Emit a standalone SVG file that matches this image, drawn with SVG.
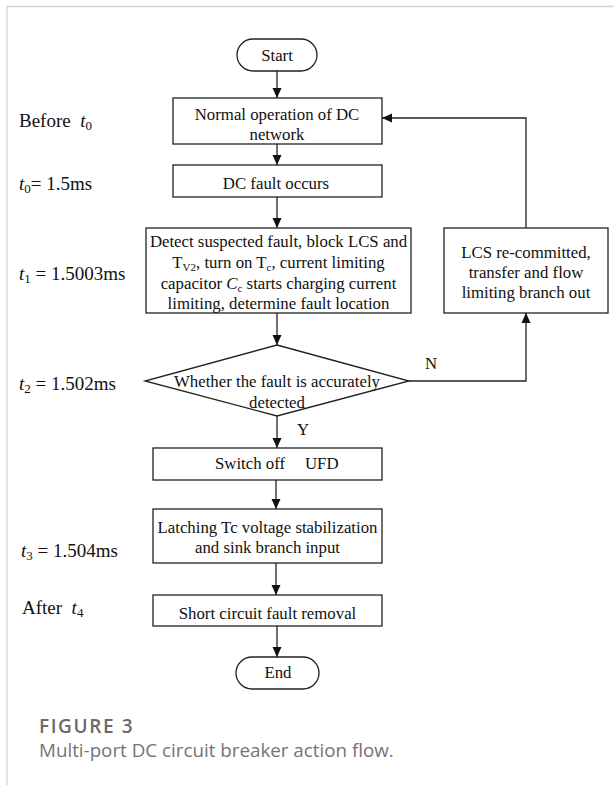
<svg xmlns="http://www.w3.org/2000/svg" width="614" height="785" viewBox="0 0 614 785">
<style>
.box{fill:#fff;stroke:#222;stroke-width:1.3}
.t{font-family:"Liberation Serif","Times New Roman",serif;font-size:16.8px;fill:#111;text-anchor:middle}
.lab{font-family:"Liberation Serif","Times New Roman",serif;font-size:19px;fill:#111;white-space:pre}
.ln{fill:none;stroke:#222;stroke-width:1.3}
.sub{font-size:11px}
.lsub{font-size:13px}
</style>
<defs>
<marker id="ah" viewBox="0 0 10 10" refX="10" refY="5" markerWidth="10" markerHeight="10" markerUnits="userSpaceOnUse" orient="auto">
<path d="M0,0.5 L10,5 L0,9.5 Z" fill="#111"/>
</marker>
</defs>
<rect x="0" y="0" width="614" height="785" fill="#fff"/>
<path d="M7,785 V6.5 H614" fill="none" stroke="#d4d4d4" stroke-width="1.3"/>

<g id="labels">
<text class="lab" x="19" y="126.5" xml:space="preserve">Before  <tspan font-style="italic">t</tspan><tspan class="lsub" dy="3">0</tspan></text>
<text class="lab" x="19" y="189.5"><tspan font-style="italic">t</tspan><tspan class="lsub" dy="3">0</tspan><tspan dy="-3">= 1.5ms</tspan></text>
<text class="lab" x="19" y="279.5"><tspan font-style="italic">t</tspan><tspan class="lsub" dy="3">1</tspan><tspan dy="-3"> = 1.5003ms</tspan></text>
<text class="lab" x="19" y="389.5"><tspan font-style="italic">t</tspan><tspan class="lsub" dy="3">2</tspan><tspan dy="-3"> = 1.502ms</tspan></text>
<text class="lab" x="21" y="556.5"><tspan font-style="italic">t</tspan><tspan class="lsub" dy="3">3</tspan><tspan dy="-3"> = 1.504ms</tspan></text>
<text class="lab" x="22" y="613.5" xml:space="preserve">After  <tspan font-style="italic">t</tspan><tspan class="lsub" dy="3">4</tspan></text>
</g>

<g id="connectors">
<line class="ln" x1="277" y1="71" x2="277" y2="98" marker-end="url(#ah)"/>
<line class="ln" x1="277" y1="144" x2="277" y2="165" marker-end="url(#ah)"/>
<line class="ln" x1="277" y1="197" x2="277" y2="228" marker-end="url(#ah)"/>
<line class="ln" x1="277" y1="313" x2="277" y2="345" marker-end="url(#ah)"/>
<line class="ln" x1="277" y1="416" x2="277" y2="448" marker-end="url(#ah)"/>
<line class="ln" x1="276" y1="480" x2="276" y2="509" marker-end="url(#ah)"/>
<line class="ln" x1="276" y1="563" x2="276" y2="595" marker-end="url(#ah)"/>
<line class="ln" x1="277" y1="626" x2="277" y2="657" marker-end="url(#ah)"/>
<path class="ln" d="M409,381 H526 V313" marker-end="url(#ah)"/>
<path class="ln" d="M526,228 V118 H382" marker-end="url(#ah)"/>
<text class="t" x="431" y="369">N</text>
<text class="t" x="303" y="434.5">Y</text>
</g>

<g id="start">
<rect class="box" x="237" y="39" width="80" height="32" rx="16" ry="16"/>
<text class="t" x="277" y="61">Start</text>
</g>

<g id="normal">
<rect class="box" x="173" y="98" width="209" height="46"/>
<text class="t" x="277" y="120">Normal operation of DC</text>
<text class="t" x="277" y="140">network</text>
</g>

<g id="fault">
<rect class="box" x="173" y="165" width="209" height="32"/>
<text class="t" x="276" y="189">DC fault occurs</text>
</g>

<g id="detect">
<rect class="box" x="146" y="228" width="265" height="85"/>
<text class="t" x="278.5" y="247">Detect suspected fault, block LCS and</text>
<text class="t" x="278.5" y="268">T<tspan class="sub" dy="3">V2</tspan><tspan dy="-3">, turn on T</tspan><tspan class="sub" dy="3">c</tspan><tspan dy="-3">, current limiting</tspan></text>
<text class="t" x="278.5" y="289">capacitor <tspan font-style="italic">C</tspan><tspan class="sub" dy="3">c</tspan><tspan dy="-3"> starts charging current</tspan></text>
<text class="t" x="278.5" y="309">limiting, determine fault location</text>
</g>

<g id="lcs">
<rect class="box" x="444" y="228" width="164" height="85"/>
<text class="t" x="526" y="257.5">LCS re-committed,</text>
<text class="t" x="526" y="277.5">transfer and flow</text>
<text class="t" x="526" y="297.5">limiting branch out</text>
</g>

<g id="decision">
<polygon class="box" points="277,345 409,381 277,416 145,381"/>
<text class="t" x="277" y="386.5">Whether the fault is accurately</text>
<text class="t" x="277" y="407.5">detected</text>
</g>

<g id="switch">
<rect class="box" x="153" y="448" width="229" height="32"/>
<text class="t" style="text-anchor:start" y="468.5"><tspan x="215">Switch off</tspan><tspan x="305">UFD</tspan></text>
</g>

<g id="latch">
<rect class="box" x="153" y="509" width="229" height="54"/>
<text class="t" x="267.5" y="532.5">Latching Tc voltage stabilization</text>
<text class="t" x="267.5" y="552.5">and sink branch input</text>
</g>

<g id="removal">
<rect class="box" x="153" y="595" width="229" height="31"/>
<text class="t" x="267.5" y="618.5">Short circuit fault removal</text>
</g>

<g id="end">
<rect class="box" x="236" y="657" width="83" height="32" rx="16" ry="16"/>
<text class="t" x="278" y="678">End</text>
</g>

<g id="caption">
<text x="39" y="733" font-family="'Open Sans','Noto Sans',sans-serif" font-size="19" font-weight="600" letter-spacing="1.6" fill="#6a6a6a">FIGURE 3</text>
<text x="39" y="757" font-family="'Open Sans','Noto Sans',sans-serif" font-size="18.8" fill="#747474">Multi-port DC circuit breaker action flow.</text>
</g>
</svg>
